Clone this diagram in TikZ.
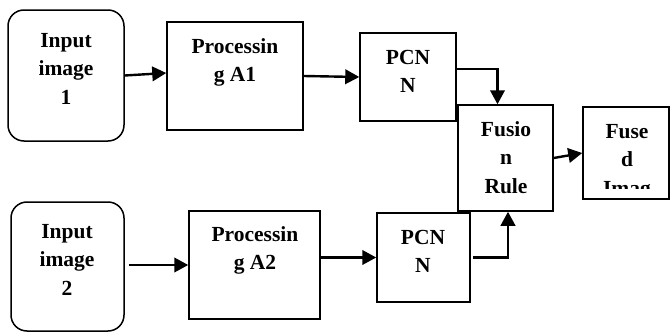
\documentclass[tikz,border=0pt]{standalone}
\usepackage{fontspec}
\setmainfont{Liberation Serif}
\usetikzlibrary{arrows.meta}
\begin{document}
\begin{tikzpicture}[x=1pt,y=-1pt,
  box/.style={draw, line width=1.5pt, inner sep=0pt},
  rbox/.style={box, rounded corners=16pt},
  lbl/.style={align=center, font=\fontsize{21.5}{28.5}\selectfont\bfseries, inner sep=0pt, anchor=base},
  conn/.style={line width=2.4pt, -{Triangle[length=14pt,width=14.5pt]}}]
\useasboundingbox (0,0) rectangle (670,332);
% boxes
\node[rbox, minimum width=116pt, minimum height=131pt] (in1) at (66,75.5) {};
\node[box, minimum width=136pt, minimum height=108pt] (pA1) at (235,76) {};
\node[box, minimum width=96pt, minimum height=88pt] (pc1) at (408,77) {};
\node[box, minimum width=95pt, minimum height=106pt] (fus) at (505.5,158) {};
\node[box, minimum width=86pt, minimum height=92pt] (fd) at (626,153) {};
\node[rbox, minimum width=113pt, minimum height=129pt] (in2) at (67.5,266.5) {};
\node[box, minimum width=131pt, minimum height=108pt] (pA2) at (254.5,265) {};
\node[box, minimum width=93pt, minimum height=89pt] (pc2) at (423.5,257.5) {};
% labels (anchored at the baseline of the last line)
\node[lbl] (t1) at (66,104) {Input\\image\\1};
\node[lbl] (t2) at (235,81.5) {Processin\\g A1};
\node[lbl] (t3) at (408,92.5) {PCN\\N};
\node[lbl] (t4) at (506,193) {Fusio\\n\\Rule};
\begin{scope}
\clip (583,107) rectangle (669,188);
\node[lbl] (t5) at (627,195) {Fuse\\d\\Imag};
\end{scope}
\node[lbl] (t6) at (67,295) {Input\\image\\2};
\node[lbl] (t7) at (255,269.5) {Processin\\g A2};
\node[lbl] (t8) at (423,272.5) {PCN\\N};
% connectors
\draw[conn] (in1.east) -- ([yshift=3pt]pA1.west);
\draw[conn] (pA1.east) -- (pc1.west);
\draw[conn] ([yshift=8pt]pc1.east) -| ([xshift=-8pt]fus.north);
\draw[conn] (fus.east) -- (fd.west);
\draw[conn] ([xshift=4pt]in2.east |- pA2.west) -- (pA2.west);
\draw[conn] (pA2.east |- pc2.west) -- (pc2.west);
\draw[conn] ([xshift=2pt]pc2.east) -| ([xshift=2.5pt]fus.south);
\end{tikzpicture}
\end{document}
